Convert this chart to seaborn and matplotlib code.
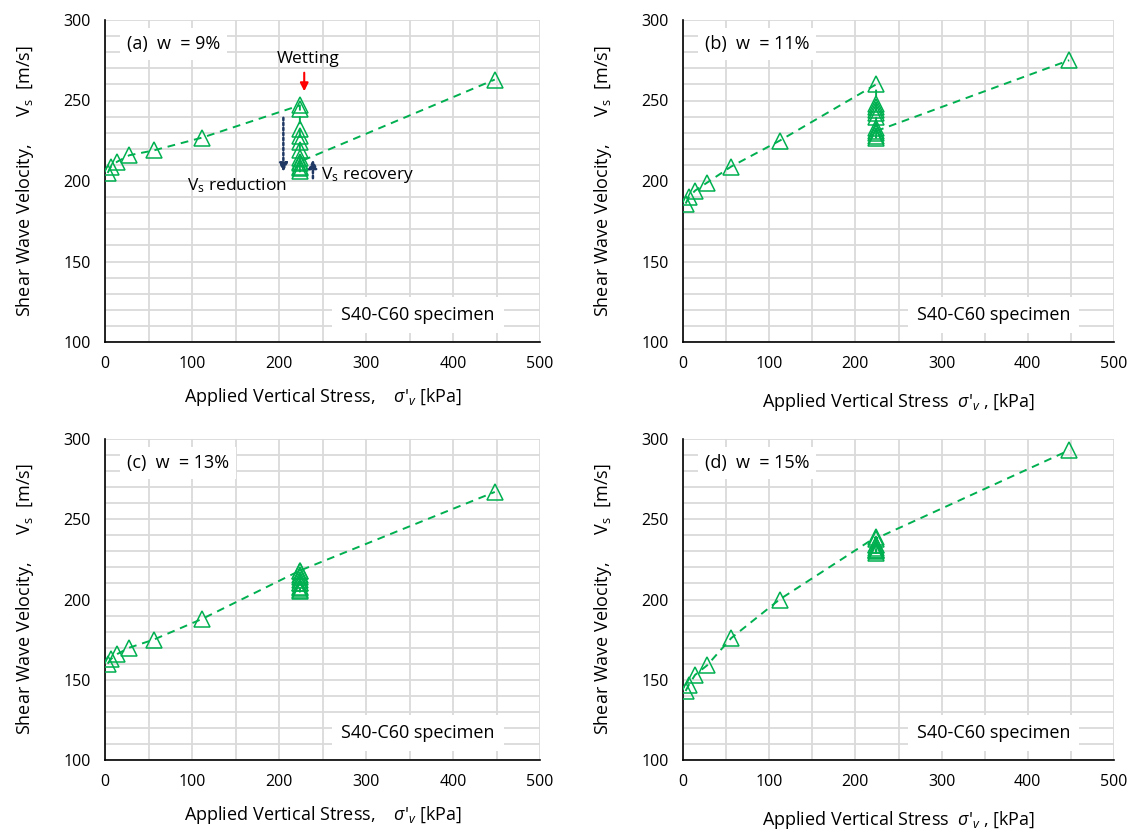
import numpy as np
import pandas as pd
import matplotlib
matplotlib.use("Agg")
import matplotlib.pyplot as plt
from matplotlib.ticker import MultipleLocator
import seaborn as sns

sns.set_theme(style="white")
plt.rcParams['font.family'] = ['Open Sans', 'DejaVu Sans']
plt.rcParams['mathtext.fontset'] = 'custom'
plt.rcParams['mathtext.rm'] = 'Open Sans'
plt.rcParams['mathtext.it'] = 'Open Sans:italic'
plt.rcParams['text.color'] = 'black'
plt.rcParams['axes.labelcolor'] = 'black'

GREEN = "#00b050"
NAVY = "#1f3864"

# ---- data ----
stress_a = [3, 7, 14, 28, 56, 112, 224, 224, 224, 224, 224, 224, 224, 224, 224, 224, 224, 224, 448]
vs_a = [205, 209, 212, 216, 219, 227, 247, 245, 232, 228, 224, 219, 214, 211, 208, 206, 209, 212, 263]

stress_b = [3, 7, 14, 28, 56, 112, 224, 224, 224, 224, 224, 224, 224, 224, 224, 224, 224, 448]
vs_b = [186, 190, 194, 199, 209, 225, 260, 248, 246, 244, 242, 240, 233, 230, 228, 227, 231, 275]

stress_c = [3, 7, 14, 28, 56, 112, 224, 224, 224, 224, 224, 224, 224, 224, 224, 224, 224, 448]
vs_c = [160, 163, 166, 170, 175, 188, 218, 215, 212, 210, 208, 206, 205, 207, 210, 214, 218, 267]

stress_d = [3, 7, 14, 28, 56, 112, 224, 224, 224, 224, 224, 224, 224, 224, 224, 448]
vs_d = [143, 147, 153, 159, 176, 200, 239, 234, 232, 231, 230, 229, 231, 234, 238, 293]

panel_labels = ["(a)  w  = 9%", "(b)  w  = 11%", "(c)  w  = 13%", "(d)  w  = 15%"]
specimen_label = "S40-C60 specimen"
xlabel_left = "Applied Vertical Stress,    $\\sigma$'$_{v}$ [kPa]"
xlabel_right = "Applied Vertical Stress  $\\sigma$'$_{v}$ , [kPa]"
ylabel = "Shear Wave Velocity,      V$_\\mathrm{s}$  [m/s]"

fig = plt.figure(figsize=(11.29, 8.31), dpi=100)
W, H = 1129, 831
rects = [(105, 20, 540, 342), (683, 20, 1114, 342), (105, 439, 540, 760), (683, 439, 1114, 760)]
axes = []
for (l, t, r, b) in rects:
    axes.append(fig.add_axes([l / W, 1 - b / H, (r - l) / W, (b - t) / H]))

datasets = [(stress_a, vs_a), (stress_b, vs_b), (stress_c, vs_c), (stress_d, vs_d)]
xlabels = [xlabel_left, xlabel_right, xlabel_left, xlabel_right]
xpads = [10, 14, 10, 14]

for i, ax in enumerate(axes):
    s, v = datasets[i]
    df = pd.DataFrame({"stress": s, "vs": v})
    sns.lineplot(data=df, x="stress", y="vs", sort=False, estimator=None, ax=ax,
                 color=GREEN, linestyle=(0, (4, 3)), linewidth=1.4,
                 marker="^", markersize=11, markerfacecolor="none",
                 markeredgecolor=GREEN, markeredgewidth=1.1, zorder=3)
    ax.set_xlim(0, 500)
    ax.set_ylim(100, 300)
    ax.xaxis.set_major_locator(MultipleLocator(100))
    ax.xaxis.set_minor_locator(MultipleLocator(50))
    ax.yaxis.set_major_locator(MultipleLocator(50))
    ax.yaxis.set_minor_locator(MultipleLocator(10))
    ax.grid(True, which="both", color="#dadada", linewidth=1.3, zorder=0)
    ax.set_axisbelow(True)
    for sp in ["top", "right"]:
        ax.spines[sp].set_visible(False)
    for sp in ["left", "bottom"]:
        ax.spines[sp].set_color("black")
        ax.spines[sp].set_linewidth(1.2)
    ax.tick_params(which="major", direction="inout", length=8, width=1.2, labelsize=11.5,
                   colors="black", pad=6)
    ax.tick_params(which="minor", direction="inout", length=6, width=1.0)
    ax.set_xlabel(xlabels[i], fontsize=13, labelpad=xpads[i])
    ax.set_ylabel(ylabel, fontsize=13, labelpad=20)
    ax.text(25, 285, panel_labels[i], fontsize=13, va="center", ha="left", zorder=4,
            bbox=dict(facecolor="white", edgecolor="none", pad=5))
    ax.text(360, 117, specimen_label, fontsize=13, va="center", ha="center", zorder=4,
            bbox=dict(facecolor="white", edgecolor="none", boxstyle="square,pad=0.5"))

ax = axes[0]
ax.text(233, 276, "Wetting", fontsize=12.5, ha="center", va="center", zorder=5)
ax.annotate("", xy=(229, 254), xytext=(229, 269),
            arrowprops=dict(arrowstyle="-|>", color="red", lw=1.5, mutation_scale=12), zorder=5)
ax.annotate("", xy=(205, 204), xytext=(205, 241),
            arrowprops=dict(arrowstyle="-|>", color=NAVY, lw=1.8, linestyle=(0, (1, 1)),
                            mutation_scale=12), zorder=5)
ax.annotate("", xy=(239, 215), xytext=(239, 200),
            arrowprops=dict(arrowstyle="-|>", color=NAVY, lw=1.8, linestyle=(0, (1, 1)),
                            mutation_scale=12), zorder=5)
ax.text(152, 197, "V$_\\mathrm{s}$ reduction", fontsize=12.5, ha="center", va="center", zorder=5)
ax.text(248, 204, "V$_\\mathrm{s}$ recovery", fontsize=12.5, ha="left", va="center", zorder=5)

fig.savefig("out.png", dpi=100)
